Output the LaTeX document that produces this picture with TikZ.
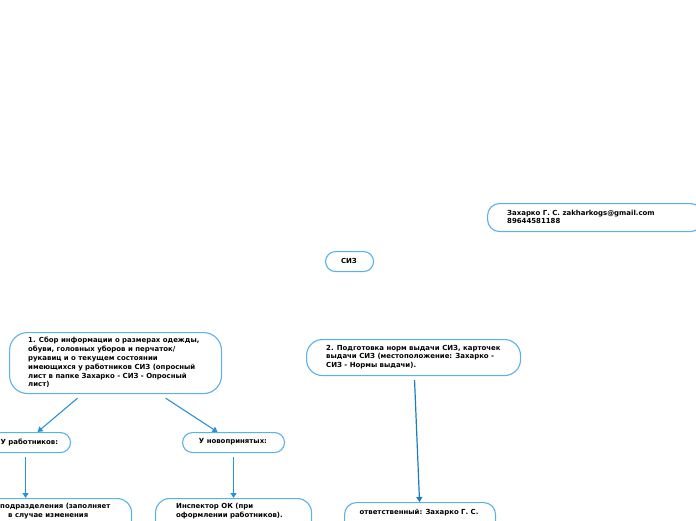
\documentclass[tikz,border=0pt]{standalone}
\usepackage{fontspec}
\setmainfont{DejaVu Sans}
\usetikzlibrary{arrows.meta}
\definecolor{bordc}{HTML}{5AB2EA}
\definecolor{connc}{HTML}{2A92D6}
\definecolor{conn2}{HTML}{1C7DBE}
\tikzset{
  box/.style={draw=bordc, line width=1.1pt, rounded corners=12pt, anchor=north west, inner sep=0pt},
  txt/.style={font=\fontsize{6.95}{8.8}\selectfont\bfseries, align=left, inner sep=0pt, text=black},
  conn/.style={draw=connc, line width=1.1pt, -{Triangle[width=6pt,length=5pt]}},
  connb/.style={draw=conn2, line width=1.2pt, -{Triangle[width=6pt,length=5pt]}}
}
\begin{document}
\begin{tikzpicture}[x=1pt,y=-1pt]
\path[use as bounding box] (0,0) rectangle (696,520);
\clip (0,0) rectangle (696,520);
\fill[white] (0,0) rectangle (696,520);
% nodes
\node[box, minimum width=215, minimum height=28] (contact) at (487,203) {};
\node[txt, anchor=west] (contactt) at (507,217) {Захарко Г. С. zakharkogs@gmail.com\\89644581188};
\node[box, rounded corners=10pt, minimum width=48, minimum height=20] (siz) at (325,251) {};
\node[txt, anchor=center] (sizt) at (349,261) {СИЗ};
\node[box, rounded corners=18pt, minimum width=212, minimum height=61] (n1) at (9,332) {};
\node[txt, anchor=west] (n1t) at (28,362.5) {1. Сбор информации о размерах одежды,\\обуви, головных уборов и перчаток/\\рукавиц и о текущем состоянии\\имеющихся у работников СИЗ (опросный\\лист в папке Захарко - СИЗ - Опросный\\лист)};
\node[box, rounded corners=16pt, minimum width=214, minimum height=36] (n2) at (306,339) {};
\node[txt, anchor=west] (n2t) at (326,357) {2. Подготовка норм выдачи СИЗ, карточек\\выдачи СИЗ (местоположение: Захарко -\\СИЗ - Нормы выдачи).};
\node[box, rounded corners=10pt, minimum width=90, minimum height=20] (ur) at (-20,432) {};
\node[txt, anchor=west] (urt) at (0.5,442) {У работников:};
\node[box, rounded corners=10pt, minimum width=102, minimum height=20] (un) at (182,432) {};
\node[txt, anchor=center] (unt) at (233,442) {У новопринятых:};
\node[box, rounded corners=14pt, minimum width=191, minimum height=60] (bl) at (-60,498) {};
\node[txt, anchor=north west] (blt) at (0,503.5) {подразделения (заполняет\\\hspace*{8pt}в случае изменения};
\node[box, rounded corners=14pt, minimum width=156, minimum height=60] (bm) at (155,498) {};
\node[txt, anchor=north west] (bmt) at (176,503.5) {Инспектор ОК (при\\оформлении работников).};
\node[box, rounded corners=12pt, minimum width=151, minimum height=60] (br) at (344,502) {};
\node[txt, anchor=center] (brt) at (419,512.5) {ответственный: Захарко Г. С.};
% connectors
\draw[conn] ([xshift=-38pt,yshift=-4pt]n1.south) -- ([xshift=12pt]ur.north);
\draw[conn] ([xshift=50pt,yshift=-4pt]n1.south) -- ([xshift=-16pt]un.north);
\draw[conn] ([xshift=0pt,yshift=-4pt]ur.south) -- (ur.south |- bl.north);
\draw[conn] ([yshift=-4pt]un.south) -- (un.south |- bm.north);
\draw[connb] ([xshift=1pt,yshift=-4pt]n2.south) -- ([xshift=-0.5pt]br.north);
\end{tikzpicture}
\end{document}
